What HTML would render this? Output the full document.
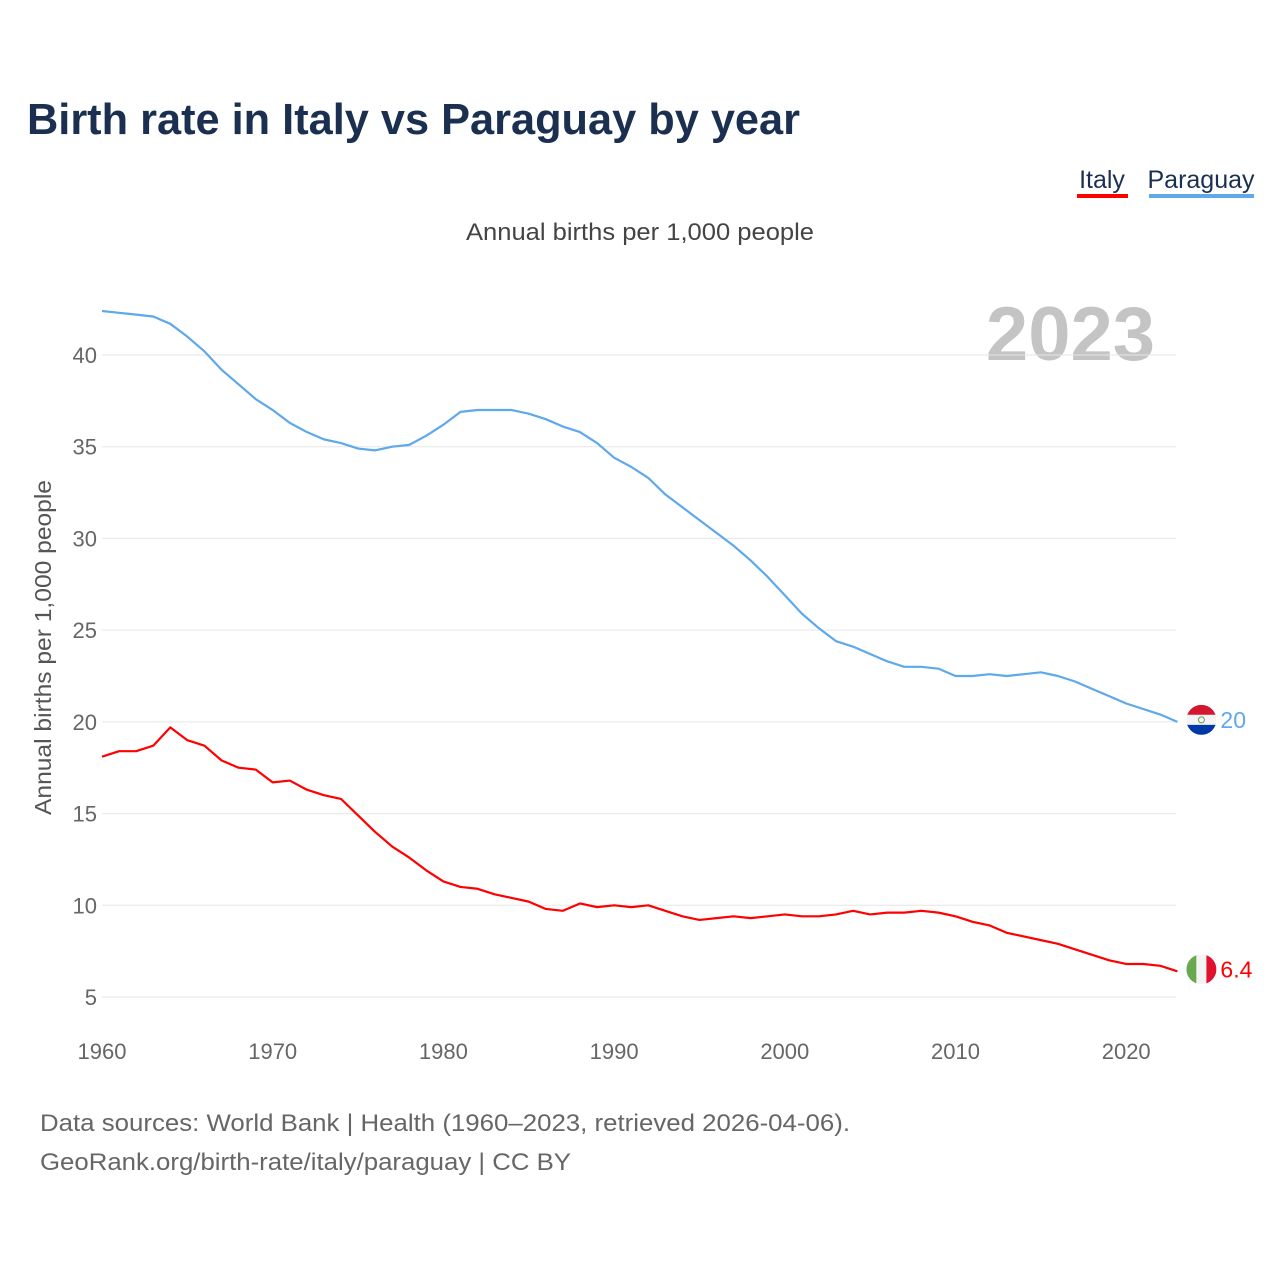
<!DOCTYPE html>
<html><head><meta charset="utf-8"><style>
body{margin:0;background:#fff;font-family:"Liberation Sans",sans-serif;}
svg text{font-family:"Liberation Sans",sans-serif;}
</style></head><body>
<svg id="chart" width="1280" height="1280" viewBox="0 0 1280 1280">
<text x="27" y="134" font-size="44" font-weight="bold" fill="#1b3050" textLength="773" lengthAdjust="spacingAndGlyphs">Birth rate in Italy vs Paraguay by year</text>
<g>
<text x="1102" y="188" font-size="25" fill="#1b3050" text-anchor="middle">Italy</text>
<rect x="1077" y="194" width="51" height="4" fill="#ff0000"/>
<text x="1201" y="188" font-size="25" fill="#1b3050" text-anchor="middle">Paraguay</text>
<rect x="1149" y="194" width="105" height="4" fill="#5ea8ec"/>
</g>
<text x="466" y="240" font-size="24" fill="#444" textLength="348" lengthAdjust="spacingAndGlyphs">Annual births per 1,000 people</text>
<text x="1155" y="360" font-size="76" font-weight="bold" fill="#c4c4c4" text-anchor="end">2023</text>
<text transform="translate(51,815) rotate(-90)" font-size="23" fill="#555" textLength="335" lengthAdjust="spacingAndGlyphs">Annual births per 1,000 people</text>
<g id="grid"></g><g id="lines"></g><g id="ends"></g>
<text x="40" y="1131" font-size="24" fill="#666" textLength="810" lengthAdjust="spacingAndGlyphs">Data sources: World Bank | Health (1960–2023, retrieved 2026-04-06).</text>
<text x="40" y="1170" font-size="24" fill="#666" textLength="531" lengthAdjust="spacingAndGlyphs">GeoRank.org/birth-rate/italy/paraguay | CC BY</text>
</svg>
<script>
const years=[];for(let y=1960;y<=2023;y++)years.push(y);
const paraguay=[42.4,42.3,42.2,42.1,41.7,41.0,40.2,39.2,38.4,37.6,37.0,36.3,35.8,35.4,35.2,34.9,34.8,35.0,35.1,35.6,36.2,36.9,37.0,37.0,37.0,36.8,36.5,36.1,35.8,35.2,34.4,33.9,33.3,32.4,31.7,31.0,30.3,29.6,28.8,27.9,26.9,25.9,25.1,24.4,24.1,23.7,23.3,23.0,23.0,22.9,22.5,22.5,22.6,22.5,22.6,22.7,22.5,22.2,21.8,21.4,21.0,20.7,20.4,20.0];
const italy=[18.1,18.4,18.4,18.7,19.7,19.0,18.7,17.9,17.5,17.4,16.7,16.8,16.3,16.0,15.8,14.9,14.0,13.2,12.6,11.9,11.3,11.0,10.9,10.6,10.4,10.2,9.8,9.7,10.1,9.9,10.0,9.9,10.0,9.7,9.4,9.2,9.3,9.4,9.3,9.4,9.5,9.4,9.4,9.5,9.7,9.5,9.6,9.6,9.7,9.6,9.4,9.1,8.9,8.5,8.3,8.1,7.9,7.6,7.3,7.0,6.8,6.8,6.7,6.4];
const yTicks=[5,10,15,20,25,30,35,40];
const xTicks=[1960,1970,1980,1990,2000,2010,2020];
const NS='http://www.w3.org/2000/svg';
const X=y=>102+(y-1960)*17.07;
const Y=v=>997-(v-5)*18.343;
function mk(t,a,p){const e=document.createElementNS(NS,t);for(const k in a)e.setAttribute(k,a[k]);p.appendChild(e);return e;}
const g=document.getElementById('grid');
yTicks.forEach(v=>{
 const l=mk('line',{x1:102,x2:1176,y1:Y(v),y2:Y(v),stroke:'#e6e6e6','stroke-width':1},g);
 
 
 const t=mk('text',{x:97,y:Y(v)+8,'font-size':22,fill:'#666','text-anchor':'end'},g);t.textContent=v;
 
 
});
xTicks.forEach(v=>{
 const t=mk('text',{x:X(v),y:1059,'font-size':22,fill:'#666','text-anchor':'middle'},g);t.textContent=v;
 
 
});
const L=document.getElementById('lines');
function line(data,col,name){
 const p=mk('polyline',{points:data.map((v,i)=>X(years[i])+','+Y(v)).join(' '),fill:'none',stroke:col,'stroke-width':2.2,'stroke-linejoin':'round'},L);
 
 
}
line(paraguay,'#5ea8ec','paraguay-line');
line(italy,'#ff0000','italy-line');
const E=document.getElementById('ends');
function end(data,col,name,label,flag){
 const x=X(2023)+24,y=Y(data[data.length-1])-2;
 const fg=mk('g',{},E);
 
 
 const cid='c'+name;
 const cp=mk('clipPath',{id:cid},fg);mk('circle',{cx:x,cy:y,r:15},cp);
 const inner=mk('g',{'clip-path':'url(#'+cid+')'},fg);
 if(flag==='it'){mk('rect',{x:x-15,y:y-15,width:10,height:30,fill:'#6aa84f'},inner);mk('rect',{x:x-5,y:y-15,width:10,height:30,fill:'#f4f4f4'},inner);mk('rect',{x:x+5,y:y-15,width:10,height:30,fill:'#e0102f'},inner);}
 else{mk('rect',{x:x-15,y:y-15,width:30,height:10,fill:'#d5162f'},inner);mk('rect',{x:x-15,y:y-5,width:30,height:10,fill:'#f4f4f4'},inner);mk('rect',{x:x-15,y:y+5,width:30,height:10,fill:'#0038a8'},inner);mk('circle',{cx:x,cy:y,r:3,fill:'none',stroke:'#6a9a4a','stroke-width':1},inner);}
 const t=mk('text',{x:x+19,y:y+8,'font-size':23,fill:col},E);t.textContent=label;
 
 
}
end(paraguay,'#5ea8ec','paraguay','20','py');
end(italy,'#ff0000','italy','6.4','it');
</script>
</body></html>
